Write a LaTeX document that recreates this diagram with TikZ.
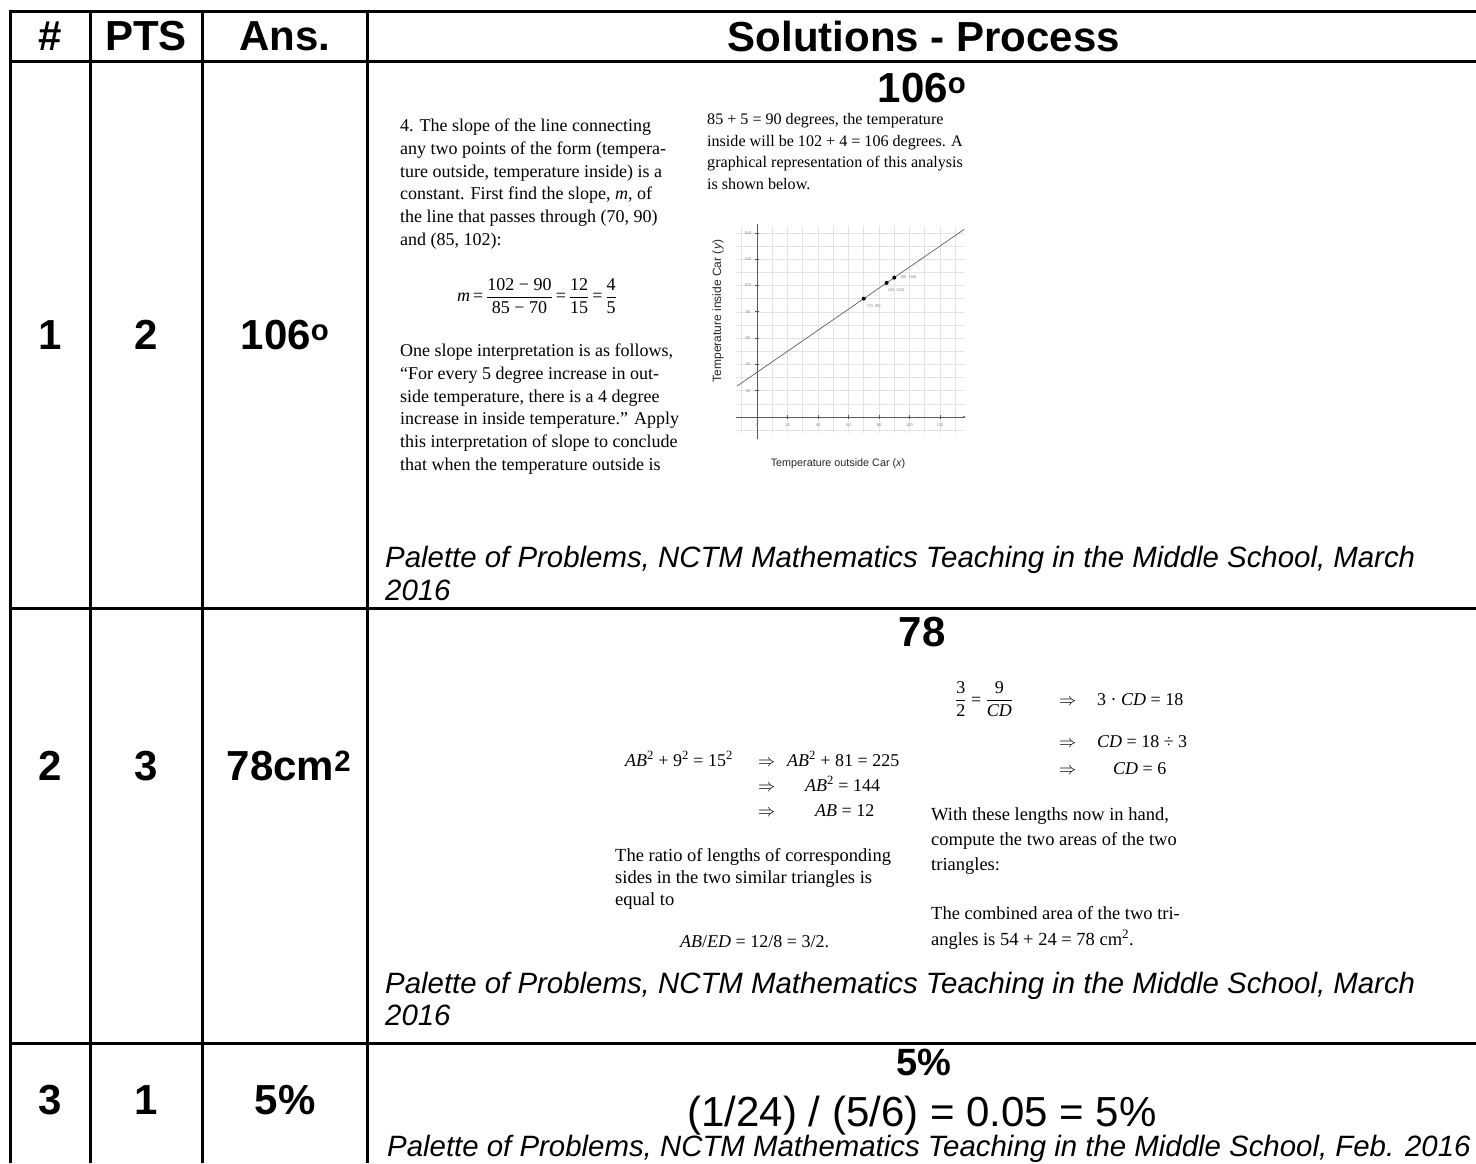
\documentclass[tikz,border=0pt]{standalone}
\usepackage{fontspec}
\usetikzlibrary{arrows.meta}
\setmainfont{Liberation Sans}
\newfontfamily\serif{Liberation Serif}
\newcommand\mfr[2]{{\displaystyle\frac{\hbox{#1}}{\hbox{#2}}}}
\newcommand\ita[1]{{\itshape #1}}
\begin{document}
\begin{tikzpicture}[x=1pt,y=-1pt,
  tbl/.style={line width=3pt},
  hdr/.style={font=\fontsize{42}{42}\selectfont\bfseries,inner sep=0pt,anchor=center},
  cite/.style={font=\fontsize{29.4}{33}\selectfont\itshape,inner sep=0pt,anchor=base west},
  body/.style={font=\serif\fontsize{18}{22.7}\selectfont,inner sep=0pt,anchor=north west,align=left},
  bodyb/.style={font=\serif\fontsize{18.5}{22}\selectfont,inner sep=0pt,anchor=base west},
  gridln/.style={draw=gray!22,line width=0.6pt},
  axln/.style={draw=gray!70!black,line width=0.8pt},
  tiny/.style={font=\fontsize{4}{4}\selectfont,text=gray,inner sep=0pt}]
\useasboundingbox (0,0) rectangle (1476,1163);
\fill[white] (0,0) rectangle (1476,1163);
% table rules
\draw[tbl] (10,11) -- (1476,11);
\draw[tbl] (10,61) -- (1476,61);
\draw[tbl] (10,608) -- (1476,608);
\draw[tbl] (10,1043) -- (1476,1043);
\foreach \xx in {10,90,202,367} \draw[tbl] (\xx,9.5) -- (\xx,1163);
% header
\node[hdr] (hnum) at (50,36) {\#};
\node[hdr] (hpts) at (146,36) {PTS};
\node[hdr] (hans) at (285,36) {Ans.};
\node[hdr] (hsol) at (924,36) {Solutions - Process};
% row 1
\node[hdr] (n1) at (50,335) {1};
\node[hdr] (p1) at (146,335) {2};
\node[hdr] (a1) at (285,335) {106\textsuperscript{o}};
\node[hdr] (s1) at (922,88) {106\textsuperscript{o}};
\node[body] (t1a) at (400,119) {4. The slope of the line connecting\\
any two points of the form (tempera-\\
ture outside, temperature inside) is a\\
constant. First find the slope, \ita{m}, of\\
the line that passes through (70, 90)\\
and (85, 102):};
\node[font=\serif\fontsize{18}{22}\selectfont,inner sep=0pt] (eq1) at (537,296)
 {$\hbox{\ita{m}\,=\,}\mfr{102 − 90}{85 − 70}\hbox{\,=\,}\mfr{12}{15}\hbox{\,=\,}\mfr{4}{5}$};
\node[body] (t1b) at (400,344) {One slope interpretation is as follows,\\
“For every 5 degree increase in out-\\
side temperature, there is a 4 degree\\
increase in inside temperature.” Apply\\
this interpretation of slope to conclude\\
that when the temperature outside is};
\node[body,font=\serif\fontsize{16.1}{21.7}\selectfont] (t1c) at (707,113) {85 + 5 = 90 degrees, the temperature\\
inside will be 102 + 4 = 106 degrees. A\\
graphical representation of this analysis\\
is shown below.};
% graph
\begin{scope}[shift={(757,417)},x=1.525pt,y=1.315pt]
  \foreach \gx in {-10,0,...,130} \draw[gridln] (\gx,-12) -- (\gx,145);
  \foreach \gy in {-10,0,...,140} \draw[gridln] (-14,\gy) -- (136,\gy);
  \draw[axln,-{Stealth[length=3pt]}] (-14,0) -- (137,0);
  \draw[axln] (0,-17) -- (0,147);
  \foreach \gx in {0,20,...,120} {\draw[axln] (\gx,-1.5) -- (\gx,1.5);
    \node[tiny] (xt\gx) at (\gx,-6) {\gx};}
  \foreach \gy in {20,40,...,140} {\draw[axln] (-1,\gy) -- (1,\gy);
    \node[tiny] (yt\gy) at (-6,\gy) {\gy};}
  \coordinate (la) at (-13,23.6);
  \coordinate (lb) at (136,142.8);
  \draw[line width=0.7pt,gray!75!black] (la) -- (lb);
  \fill (70,90) circle[radius=2pt];
  \fill (85,102) circle[radius=2pt];
  \fill (90,106) circle[radius=2pt];
  \node[tiny,anchor=west] (pl1) at (72,84) {(70, 90)};
  \node[tiny,anchor=west] (pl2) at (86,96) {(85, 102)};
  \node[tiny,anchor=west] (pl3) at (94,106) {(90, 106)};
\end{scope}
\node[font=\fontsize{10.8}{12}\selectfont,inner sep=0pt,text=black!85] (xlab) at (838,464) {Temperature outside Car (\ita{x})};
\node[font=\fontsize{12}{12}\selectfont,inner sep=0pt,rotate=90,text=black!85] (ylab) at (718,311) {Temperature inside Car (\ita{y})};
% citation 1
\node[cite] (c1a) at (385,567) {Palette of Problems, NCTM Mathematics Teaching in the Middle School, March};
\node[cite] (c1b) at (385,600) {2016};
% row 2
\node[hdr] (n2) at (50,766) {2};
\node[hdr] (p2) at (146,766) {3};
\node[hdr] (a2) at (289,766) {78cm\textsuperscript{2}};
\node[hdr] (s2) at (922,632) {78};
\begin{scope}[every node/.style={font=\serif\fontsize{18}{22}\selectfont,inner sep=0pt,anchor=base west}]
  \node (e1) at (625,766) {\ita{AB}\textsuperscript{2} + 9\textsuperscript{2} = 15\textsuperscript{2}};
  \node (e1r) at (758,766) {$\Rightarrow$};
  \node (e1b) at (787,766) {\ita{AB}\textsuperscript{2} + 81 = 225};
  \node (e2r) at (758,791) {$\Rightarrow$};
  \node (e2b) at (805,791) {\ita{AB}\textsuperscript{2} = 144};
  \node (e3r) at (758,816) {$\Rightarrow$};
  \node (e3b) at (815,816) {\ita{AB} = 12};
  \node (f1) at (955,705) {$\mfr{3}{2}\hbox{ = }\mfr{9}{\itshape CD}$};
  \node (f1r) at (1059,705) {$\Rightarrow$};
  \node (f1b) at (1097,705) {3 · \ita{CD} = 18};
  \node (f2r) at (1059,747) {$\Rightarrow$};
  \node (f2b) at (1097,747) {\ita{CD} = 18 ÷ 3};
  \node (f3r) at (1059,774) {$\Rightarrow$};
  \node (f3b) at (1113,774) {\ita{CD} = 6};
  \node (ab) at (680,947) {\ita{AB}/\ita{ED} = 12/8 = 3/2.};
\end{scope}
\node[bodyb,anchor=north west,align=left,font=\serif\fontsize{18.5}{22}\selectfont] (t2a) at (615,848) {The ratio of lengths of corresponding\\
sides in the two similar triangles is\\
equal to};
\node[bodyb,anchor=north west,align=left,font=\serif\fontsize{18.5}{25}\selectfont] (t2b) at (931,807) {With these lengths now in hand,\\
compute the two areas of the two\\
triangles:};
\node[bodyb,anchor=north west,align=left,font=\serif\fontsize{18.5}{26}\selectfont] (t2c) at (931,906) {The combined area of the two tri-\\
angles is 54 + 24 = 78 cm\textsuperscript{2}.};
\node[cite] (c2a) at (385,993) {Palette of Problems, NCTM Mathematics Teaching in the Middle School, March};
\node[cite] (c2b) at (385,1025) {2016};
% row 3
\node[hdr] (n3) at (50,1100) {3};
\node[hdr] (p3) at (146,1100) {1};
\node[hdr] (a3) at (285,1100) {5\%};
\node[hdr,font=\fontsize{38}{38}\selectfont\bfseries,anchor=base] (s3) at (924,1075) {5\%};
\node[font=\fontsize{42}{42}\selectfont,inner sep=0pt,anchor=base] (eq3) at (922,1126) {(1/24) / (5/6) = 0.05 = 5\%};
\node[cite] (c3) at (387,1156) {Palette of Problems, NCTM Mathematics Teaching in the Middle School, Feb. 2016};
\end{tikzpicture}
\end{document}
